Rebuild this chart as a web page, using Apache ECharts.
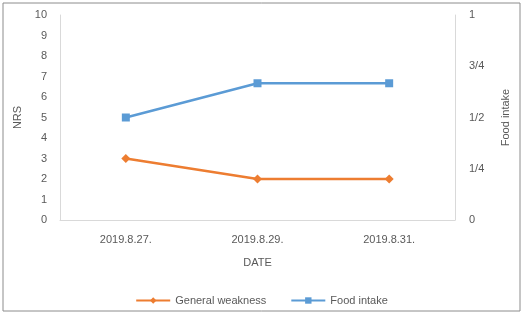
<!DOCTYPE html>
<html>
<head>
<meta charset="utf-8">
<script src="https://cdn.jsdelivr.net/npm/echarts@6/dist/echarts.min.js"></script>
<style>
html, body { margin: 0; padding: 0; background: #fff; }
#chart { width: 523px; height: 314px; }
</style>
</head>
<body>
<div id="chart"></div>
<script>
// data
var dates = ['2019.8.27.', '2019.8.29.', '2019.8.31.'];
var weakness = [3, 2, 2];
var foodIntake = [0.5, 0.667, 0.667];
var fractionLabels = { 0: '0', 0.25: '1/4', 0.5: '1/2', 0.75: '3/4', 1: '1' };

var chart = echarts.init(document.getElementById('chart'));

var textColor = '#595959';
var lineGrey = '#d9d9d9';
var font = 'Liberation Sans';

var option = {
    backgroundColor: '#fff',
    textStyle: { fontFamily: font, color: textColor },
    graphic: [{
        type: 'rect',
        shape: { x: 3, y: 3, width: 517, height: 308 },
        style: { fill: 'none', stroke: '#8c8c8c', lineWidth: 1 }
    }],
    grid: { left: 60, right: 68, top: 15, bottom: 94 },
    legend: {
        bottom: 3,
        left: 'center',
        itemWidth: 34,
        itemHeight: 8,
        itemGap: 24,
        textStyle: { color: textColor, fontSize: 11, fontFamily: font },
        data: ['General weakness', 'Food intake']
    },
    xAxis: {
        type: 'category',
        data: dates,
        name: 'DATE',
        nameLocation: 'middle',
        nameGap: 37,
        nameTextStyle: { color: textColor, fontSize: 11 },
        axisLine: { lineStyle: { color: lineGrey } },
        axisTick: { show: false },
        axisLabel: { color: textColor, fontSize: 11, margin: 14 }
    },
    yAxis: [{
        type: 'value',
        min: 0,
        max: 10,
        interval: 1,
        name: 'NRS',
        nameLocation: 'middle',
        nameGap: 28,
        nameTextStyle: { color: textColor, fontSize: 11 },
        axisLine: { show: true, lineStyle: { color: lineGrey } },
        axisTick: { show: false },
        splitLine: { show: false },
        axisLabel: { color: textColor, fontSize: 11, margin: 13 }
    }, {
        type: 'value',
        min: 0,
        max: 1,
        interval: 0.25,
        name: 'Food intake',
        nameLocation: 'middle',
        nameGap: 45,
        nameRotate: 90,
        nameTextStyle: { color: textColor, fontSize: 11 },
        axisLine: { show: true, lineStyle: { color: lineGrey } },
        axisTick: { show: false },
        splitLine: { show: false },
        axisLabel: {
            color: textColor, fontSize: 11, margin: 14,
            formatter: function (v) { return fractionLabels[v]; }
        }
    }],
    series: [{
        name: 'General weakness',
        type: 'line',
        data: weakness,
        yAxisIndex: 0,
        symbol: 'diamond',
        symbolSize: 9,
        color: '#ED7D31',
        lineStyle: { width: 2.5 }
    }, {
        name: 'Food intake',
        type: 'line',
        data: foodIntake,
        yAxisIndex: 1,
        symbol: 'rect',
        symbolSize: 8,
        color: '#5B9BD5',
        lineStyle: { width: 2.5 }
    }]
};

chart.setOption(option);
</script>
</body>
</html>
